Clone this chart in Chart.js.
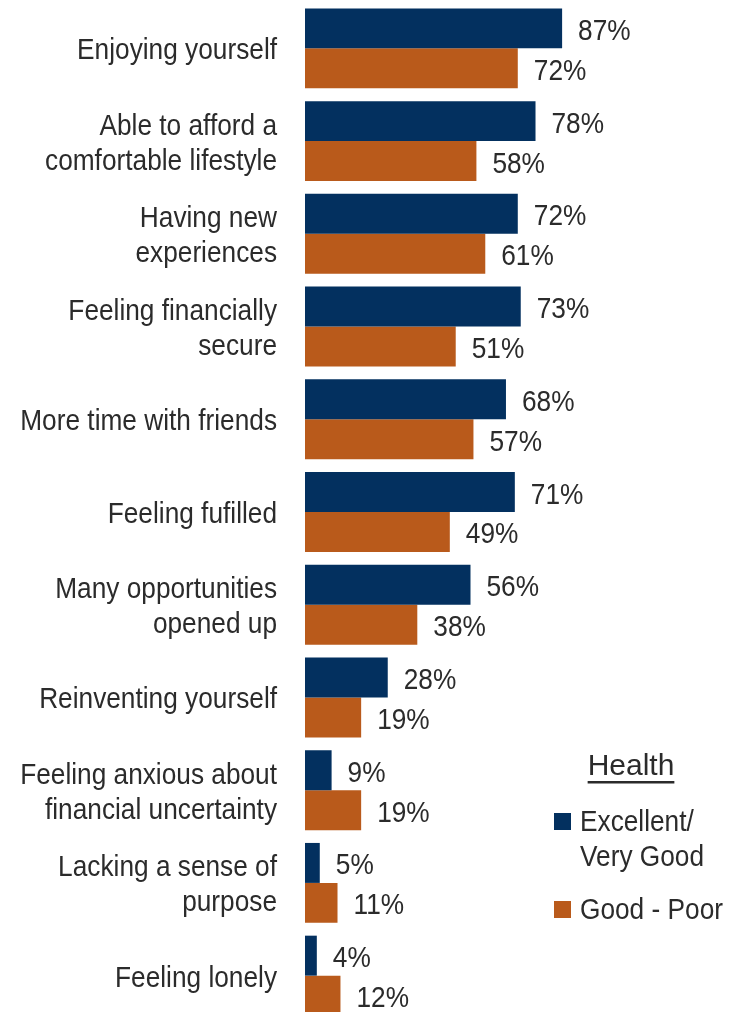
<!DOCTYPE html>
<html>
<head>
<meta charset="utf-8">
<script src="https://cdn.jsdelivr.net/npm/chart.js@4.4.0/dist/chart.umd.min.js"></script>
<style>
  html, body { margin: 0; padding: 0; background: #fff; overflow: hidden; }
  #wrap { width: 735px; height: 1012px; overflow: hidden; position: relative; }
  #wrap canvas { position: absolute; left: 0; top: 0; }
</style>
</head>
<body>
<div id="wrap"><canvas id="chart" width="735" height="1022"></canvas></div>
<script>
const categories = [
  "Enjoying yourself",
  ["Able to afford a", "comfortable lifestyle"],
  ["Having new", "experiences"],
  ["Feeling financially", "secure"],
  "More time with friends",
  "Feeling fufilled",
  ["Many opportunities", "opened up"],
  "Reinventing yourself",
  ["Feeling anxious about", "financial uncertainty"],
  ["Lacking a sense of", "purpose"],
  "Feeling lonely"
];
const excellent = [87, 78, 72, 73, 68, 71, 56, 28, 9, 5, 4];
const goodPoor = [72, 58, 61, 51, 57, 49, 38, 19, 19, 11, 12];

const seriesNames = ["Excellent/\nVery Good", "Good - Poor"];
const navy = "#03305f";
const orange = "#b95a1b";
const textColor = "#2b2b2b";
const fontFam = "'Liberation Sans', Arial, sans-serif";
const narrow = 0.875; // squeeze to mimic a narrow face

function narrowText(ctx, txt, x, y, align) {
  ctx.save();
  ctx.translate(x, y);
  ctx.scale(narrow, 1);
  ctx.textAlign = align;
  ctx.fillText(txt, 0, 0);
  ctx.restore();
}

// category labels on the left, drawn condensed
const catLabels = {
  id: "catLabels",
  afterDraw(chart) {
    const ctx = chart.ctx;
    const yScale = chart.scales.y;
    ctx.save();
    ctx.font = "30px " + fontFam;
    ctx.fillStyle = textColor;
    ctx.textBaseline = "alphabetic";
    chart.data.labels.forEach((lab, i) => {
      const lines = Array.isArray(lab) ? lab : [lab];
      const yc = yScale.getPixelForTick(i);
      lines.forEach((ln, k) => {
        const yy = yc + (k - (lines.length - 1) / 2) * 35 + 11;
        narrowText(ctx, ln, 277, yy, "right");
      });
    });
    ctx.restore();
  }
};

// value labels to the right of each bar
const valueLabels = {
  id: "valueLabels",
  afterDatasetsDraw(chart) {
    const ctx = chart.ctx;
    ctx.save();
    ctx.font = "30px " + fontFam;
    ctx.fillStyle = textColor;
    ctx.textBaseline = "alphabetic";
    chart.data.datasets.forEach((ds, i) => {
      chart.getDatasetMeta(i).data.forEach((bar, j) => {
        narrowText(ctx, ds.data[j] + "%", bar.x + 16, bar.y + 11.5, "left");
      });
    });
    ctx.restore();
  }
};

// legend box in the lower right
const healthLegend = {
  id: "healthLegend",
  afterDraw(chart) {
    const ctx = chart.ctx;
    ctx.save();
    ctx.font = "30px " + fontFam;
    ctx.fillStyle = textColor;
    ctx.textBaseline = "alphabetic";
    ctx.textAlign = "center";
    ctx.fillText("Health", 631, 775);
    const w = ctx.measureText("Health").width;
    ctx.fillRect(631 - w / 2, 781, w, 2.5);
    const items = [
      { lines: seriesNames[0].split("\n"), color: navy, top: 813 },
      { lines: seriesNames[1].split("\n"), color: orange, top: 901 }
    ];
    items.forEach(it => {
      ctx.fillStyle = it.color;
      ctx.fillRect(554, it.top, 17, 17);
      ctx.fillStyle = textColor;
      it.lines.forEach((ln, k) => narrowText(ctx, ln, 580, it.top + 18 + k * 35, "left"));
    });
    ctx.restore();
  }
};

new Chart(document.getElementById("chart"), {
  type: "bar",
  data: {
    labels: categories,
    datasets: [
      { label: seriesNames[0], data: excellent, backgroundColor: navy },
      { label: seriesNames[1], data: goodPoor, backgroundColor: orange }
    ]
  },
  options: {
    indexAxis: "y",
    responsive: false,
    animation: false,
    devicePixelRatio: 1,
    layout: { padding: { top: 2, bottom: 0, left: 0, right: 0 } },
    datasets: {
      bar: { categoryPercentage: 0.862, barPercentage: 1.0 }
    },
    plugins: {
      legend: { display: false },
      tooltip: { enabled: false }
    },
    scales: {
      x: {
        display: false,
        min: 0,
        max: 145.5
      },
      y: {
        grid: { display: false },
        border: { display: false },
        ticks: { display: false },
        afterFit(scale) {
          scale.width = 305;
          scale.paddingTop = 0;
          scale.paddingBottom = 0;
        }
      }
    }
  },
  plugins: [valueLabels, catLabels, healthLegend]
});
</script>
</body>
</html>
